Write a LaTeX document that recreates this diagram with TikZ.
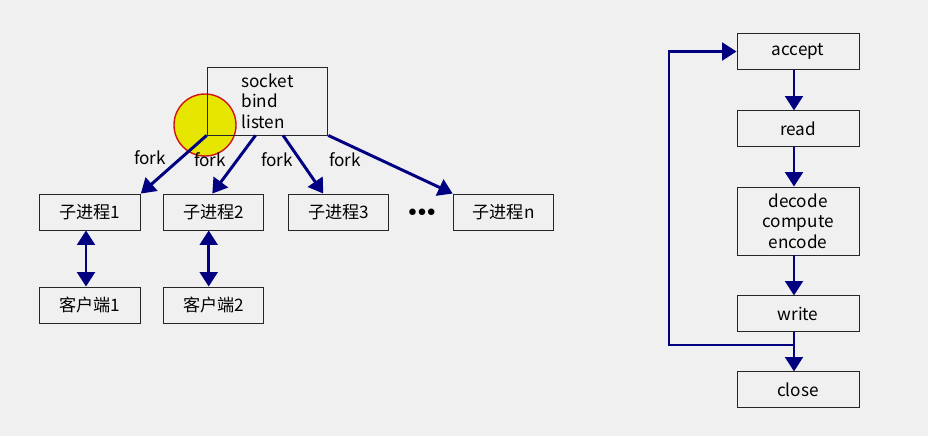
\documentclass[tikz,border=0pt]{standalone}
\usepackage{fontspec}
\setmainfont{Noto Sans CJK SC}
\usetikzlibrary{arrows.meta}
\definecolor{bgcol}{HTML}{F0F0F0}
\definecolor{arrowcol}{HTML}{000080}
\tikzset{
    box/.style={draw=black!85,line width=0.6pt,minimum width=2.52cm,minimum height=0.9cm,inner sep=0pt},
    stagebox/.style={box,minimum width=3.05cm,minimum height=0.88cm},
    flow/.style={draw=arrowcol,line width=2.1pt,-{Triangle[length=0.36cm,width=0.44cm]}},
    twoway/.style={draw=arrowcol,line width=2.1pt,{Triangle[length=0.36cm,width=0.44cm]}-{Triangle[length=0.36cm,width=0.44cm]}},
}
\begin{document}
\begin{tikzpicture}[x=0.025cm,y=-0.025cm,font=\fontsize{12.2pt}{14.7pt}\selectfont]
                \fill[bgcol] (0,0) rectangle (928,436);
                \useasboundingbox (0,0) rectangle (928,436);
                %% cursor mark
                \filldraw[fill={rgb,255:red,230;green,230;blue,0},draw={rgb,255:red,210;green,20;blue,20},line width=1pt] (205,125) circle (31);
                %% server and child processes
                \node[box,minimum width=3.02cm,minimum height=1.7cm,align=left] (socket) at (267.5,101) {socket\\bind\\listen};
                \node[box] (child1) at (90,212) {子进程1};
                \node[box] (child2) at (213.5,212) {子进程2};
                \node[box] (child3) at (338.5,212) {子进程3};
                \node[box] (childn) at (503.5,212) {子进程n};
                \node (dots) at (422,213) {$\bullet\mkern-3mu\bullet\mkern-3mu\bullet$};
                \node[box] (client1) at (90,305) {客户端1};
                \node[box] (client2) at (213.5,305) {客户端2};
                %% fork
                \draw[flow] (socket.south west) -- (child1.north east);
                \draw[flow] ([xshift=-0.3cm]socket.south) -- ([xshift=-0.03cm]child2.north);
                \draw[flow] ([xshift=0.39cm]socket.south) -- ([xshift=-0.38cm]child3.north);
                \draw[flow] (socket.south east) -- (childn.north west);
                \node (fork1) at (150,158) {fork};
                \node (fork2) at (210,160) {fork};
                \node (fork3) at (277,160) {fork};
                \node (fork4) at (345,160) {fork};
                %% clients
                \draw[twoway] ([xshift=-0.1cm]child1.south) -- ([xshift=-0.1cm]client1.north);
                \draw[twoway] ([xshift=-0.12cm]child2.south) -- ([xshift=-0.12cm]client2.north);
                %% loop
                \node[stagebox] (accept) at (798,51.5) {accept};
                \node[stagebox] (read) at (798,128.5) {read};
                \node[stagebox,minimum height=1.7cm,align=center] (decode) at (798,221) {decode\\compute\\encode};
                \node[stagebox] (write) at (798,313.5) {write};
                \node[stagebox] (close) at (798,389.5) {close};
                \draw[flow] ([xshift=-0.1cm]accept.south) -- ([xshift=-0.1cm]read.north);
                \draw[flow] ([xshift=-0.1cm]read.south) -- ([xshift=-0.1cm]decode.north);
                \draw[flow] ([xshift=-0.1cm]decode.south) -- ([xshift=-0.1cm]write.north);
                \draw[flow] ([xshift=-0.1cm]write.south) -- ([xshift=-0.1cm]close.north);
                \coordinate (back) at (669,345);
                \draw[flow] ([xshift=-0.1cm]write.south) |- (back) |- (accept.west);
            \end{tikzpicture}
\end{document}
